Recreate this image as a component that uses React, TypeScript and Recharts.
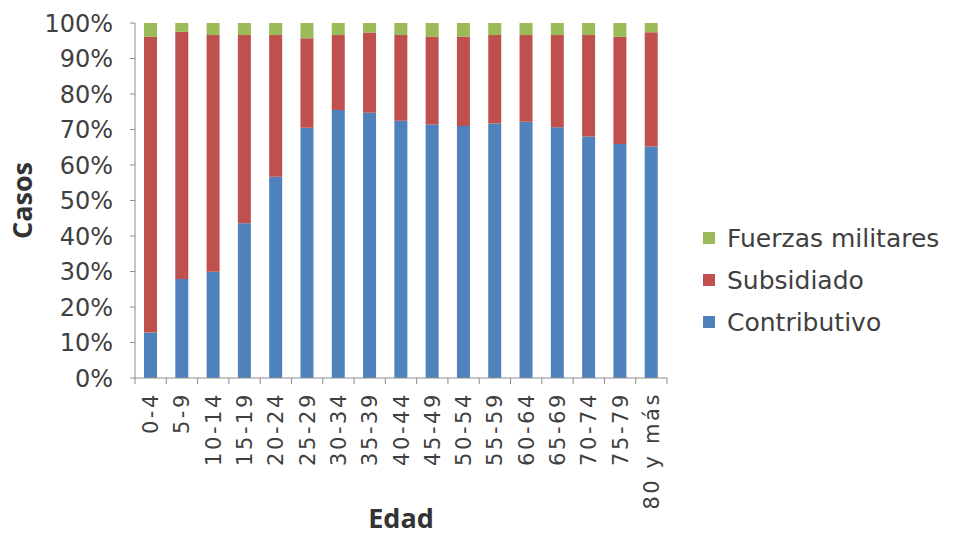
import React from 'react';
import { BarChart, Bar, XAxis, YAxis, Legend } from 'recharts';

// Age groups on the x axis
const categories = [
  '0-4', '5-9', '10-14', '15-19', '20-24', '25-29', '30-34', '35-39', '40-44',
  '45-49', '50-54', '55-59', '60-64', '65-69', '70-74', '75-79', '80 y más',
];

// Share of cases (%) per régimen
const contributivo = [12.8, 27.9, 29.9, 43.6, 56.7, 70.5, 75.5, 74.7, 72.5, 71.4, 71.0, 71.7, 72.2, 70.6, 68.0, 65.9, 65.2];
const subsidiado = [83.3, 69.6, 66.7, 53.0, 39.9, 25.2, 21.1, 22.6, 24.1, 24.7, 25.2, 24.9, 24.4, 26.0, 28.6, 30.2, 32.2];
const fuerzasMilitares = [3.9, 2.5, 3.4, 3.4, 3.4, 4.3, 3.4, 2.7, 3.4, 3.9, 3.8, 3.4, 3.4, 3.4, 3.4, 3.9, 2.6];

const yTicks = [0, 10, 20, 30, 40, 50, 60, 70, 80, 90, 100];

const series = [
  { key: 'contributivo', name: 'Contributivo', color: '#4F81BD' },
  { key: 'subsidiado', name: 'Subsidiado', color: '#C0504D' },
  { key: 'fuerzas', name: 'Fuerzas militares', color: '#9BBB59' },
];

const data = categories.map((edad, i) => ({
  edad,
  contributivo: contributivo[i],
  subsidiado: subsidiado[i],
  fuerzas: fuerzasMilitares[i],
}));

const AXIS = '#8c8c8c';

function EdadTick(props: any) {
  const { x, y, payload, index, visibleTicksCount } = props;
  const half = payload.offset ?? 0;
  const ty = y + 14;
  return (
    <g>
      <line x1={x - half} x2={x - half} y1={y} y2={y + 6} stroke={AXIS} />
      {index === visibleTicksCount - 1 && (
        <line x1={x + half} x2={x + half} y1={y} y2={y + 6} stroke={AXIS} />
      )}
      <text
        x={x}
        y={ty}
        dy="0.36em"
        textAnchor="end"
        transform={`rotate(-90, ${x}, ${ty})`}
        fontFamily="'DejaVu Sans', sans-serif"
        fontSize={21}
        letterSpacing={2.6}
        fill="#404040"
      >
        {payload.value}
      </text>
    </g>
  );
}

function LegendBox() {
  return (
    <div style={{ fontFamily: "'DejaVu Sans', sans-serif", fontSize: 25, color: '#404040' }}>
      {[...series].reverse().map((s) => (
        <div key={s.key} style={{ height: 42, display: 'flex', alignItems: 'center', whiteSpace: 'nowrap' }}>
          <span style={{ width: 12, height: 12, background: s.color, marginRight: 12, display: 'inline-block' }} />
          {s.name}
        </div>
      ))}
    </div>
  );
}

export default function App() {
  return (
    <div style={{ position: 'absolute', left: 0, top: 0, background: '#fff' }}>
      <BarChart
        width={958}
        height={538}
        data={data}
        margin={{ top: 23, right: 36, left: 10, bottom: 10 }}
      >
        <XAxis
          dataKey="edad"
          interval={0}
          height={150}
          tickSize={0}
          tickMargin={0}
          tickLine={false}
          axisLine={{ stroke: AXIS }}
          tick={<EdadTick />}
          label={{
            value: 'Edad',
            position: 'insideBottom',
            offset: 0,
            style: { fontFamily: "'Open Sans', sans-serif", fontSize: 27, fontWeight: 700, fill: '#333' },
          }}
        />
        <YAxis
          width={125}
          domain={[0, 100]}
          ticks={yTicks}
          interval={0}
          allowDataOverflow
          tickFormatter={(v: number) => `${v}%`}
          tickSize={5}
          tickMargin={17}
          axisLine={{ stroke: AXIS }}
          tickLine={{ stroke: AXIS }}
          tick={{ fontFamily: "'DejaVu Sans', sans-serif", fontSize: 24, fill: '#404040' }}
          label={{
            value: 'Casos',
            angle: -90,
            position: 'insideLeft',
            offset: 12,
            style: { textAnchor: 'middle', fontFamily: "'Open Sans', sans-serif", fontSize: 27, fontWeight: 700, fill: '#333' },
          }}
        />
        <Legend
          layout="vertical"
          align="right"
          verticalAlign="top"
          content={<LegendBox />}
          wrapperStyle={{ width: 255, left: 703, top: 217 }}
        />
        {series.map((s) => (
          <Bar
            key={s.key}
            dataKey={s.key}
            name={s.name}
            stackId="a"
            fill={s.color}
            barSize={13}
            isAnimationActive={false}
          />
        ))}
      </BarChart>
    </div>
  );
}
